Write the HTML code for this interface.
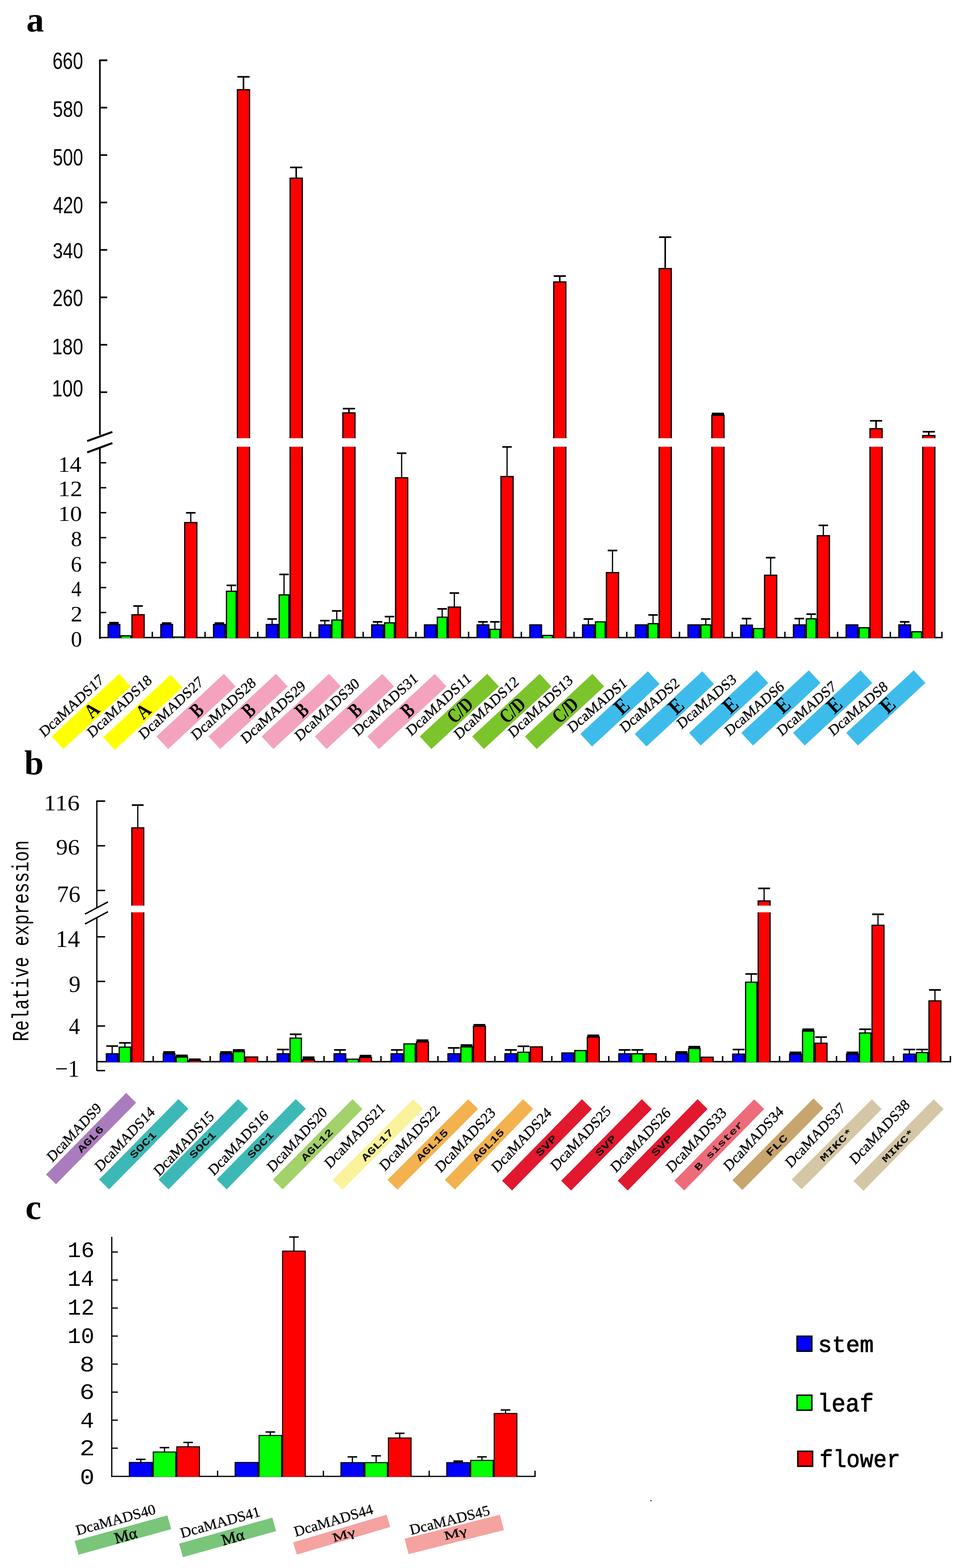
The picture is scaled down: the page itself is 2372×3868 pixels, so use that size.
<!DOCTYPE html>
<html><head><meta charset="utf-8"><title>Figure</title>
<style>html,body{margin:0;padding:0;background:#fff;} svg{display:block;}</style></head>
<body><svg width="2372" height="3868" viewBox="0 0 2372 3868">
<rect width="2372" height="3868" fill="#fff"/>
<text transform="translate(64.97,78.03) scale(0.9951,1)" font-family="'Liberation Serif',serif" font-weight="bold" font-size="87.50" fill="#000" >a</text>
<line x1="246.30" y1="147.00" x2="246.30" y2="1073.00" stroke="#000" stroke-width="4" stroke-linecap="butt"/>
<line x1="246.30" y1="967.50" x2="264.30" y2="967.50" stroke="#000" stroke-width="4" stroke-linecap="butt"/>
<line x1="246.30" y1="850.50" x2="264.30" y2="850.50" stroke="#000" stroke-width="4" stroke-linecap="butt"/>
<line x1="246.30" y1="733.50" x2="264.30" y2="733.50" stroke="#000" stroke-width="4" stroke-linecap="butt"/>
<line x1="246.30" y1="616.50" x2="264.30" y2="616.50" stroke="#000" stroke-width="4" stroke-linecap="butt"/>
<line x1="246.30" y1="499.50" x2="264.30" y2="499.50" stroke="#000" stroke-width="4" stroke-linecap="butt"/>
<line x1="246.30" y1="382.50" x2="264.30" y2="382.50" stroke="#000" stroke-width="4" stroke-linecap="butt"/>
<line x1="246.30" y1="265.50" x2="264.30" y2="265.50" stroke="#000" stroke-width="4" stroke-linecap="butt"/>
<line x1="246.30" y1="148.50" x2="264.30" y2="148.50" stroke="#000" stroke-width="4" stroke-linecap="butt"/>
<line x1="244.30" y1="149.00" x2="264.30" y2="149.00" stroke="#000" stroke-width="4" stroke-linecap="butt"/>
<line x1="215.00" y1="1088.00" x2="277.00" y2="1065.50" stroke="#000" stroke-width="5" stroke-linecap="butt"/>
<line x1="215.00" y1="1116.00" x2="277.00" y2="1093.00" stroke="#000" stroke-width="5" stroke-linecap="butt"/>
<line x1="246.30" y1="1104.00" x2="246.30" y2="1576.00" stroke="#000" stroke-width="4" stroke-linecap="butt"/>
<line x1="246.30" y1="1511.02" x2="262.00" y2="1511.02" stroke="#000" stroke-width="3.5" stroke-linecap="butt"/>
<line x1="246.30" y1="1449.44" x2="262.00" y2="1449.44" stroke="#000" stroke-width="3.5" stroke-linecap="butt"/>
<line x1="246.30" y1="1387.86" x2="262.00" y2="1387.86" stroke="#000" stroke-width="3.5" stroke-linecap="butt"/>
<line x1="246.30" y1="1326.28" x2="262.00" y2="1326.28" stroke="#000" stroke-width="3.5" stroke-linecap="butt"/>
<line x1="246.30" y1="1264.70" x2="262.00" y2="1264.70" stroke="#000" stroke-width="3.5" stroke-linecap="butt"/>
<line x1="246.30" y1="1203.12" x2="262.00" y2="1203.12" stroke="#000" stroke-width="3.5" stroke-linecap="butt"/>
<line x1="246.30" y1="1141.54" x2="262.00" y2="1141.54" stroke="#000" stroke-width="3.5" stroke-linecap="butt"/>
<line x1="244.30" y1="1572.80" x2="2324.00" y2="1572.80" stroke="#000" stroke-width="3.5" stroke-linecap="butt"/>
<line x1="375.58" y1="1558.50" x2="375.58" y2="1572.80" stroke="#000" stroke-width="3.5" stroke-linecap="butt"/>
<line x1="505.56" y1="1558.50" x2="505.56" y2="1572.80" stroke="#000" stroke-width="3.5" stroke-linecap="butt"/>
<line x1="635.54" y1="1558.50" x2="635.54" y2="1572.80" stroke="#000" stroke-width="3.5" stroke-linecap="butt"/>
<line x1="765.52" y1="1558.50" x2="765.52" y2="1572.80" stroke="#000" stroke-width="3.5" stroke-linecap="butt"/>
<line x1="895.50" y1="1558.50" x2="895.50" y2="1572.80" stroke="#000" stroke-width="3.5" stroke-linecap="butt"/>
<line x1="1025.48" y1="1558.50" x2="1025.48" y2="1572.80" stroke="#000" stroke-width="3.5" stroke-linecap="butt"/>
<line x1="1155.46" y1="1558.50" x2="1155.46" y2="1572.80" stroke="#000" stroke-width="3.5" stroke-linecap="butt"/>
<line x1="1285.44" y1="1558.50" x2="1285.44" y2="1572.80" stroke="#000" stroke-width="3.5" stroke-linecap="butt"/>
<line x1="1415.42" y1="1558.50" x2="1415.42" y2="1572.80" stroke="#000" stroke-width="3.5" stroke-linecap="butt"/>
<line x1="1545.40" y1="1558.50" x2="1545.40" y2="1572.80" stroke="#000" stroke-width="3.5" stroke-linecap="butt"/>
<line x1="1675.38" y1="1558.50" x2="1675.38" y2="1572.80" stroke="#000" stroke-width="3.5" stroke-linecap="butt"/>
<line x1="1805.36" y1="1558.50" x2="1805.36" y2="1572.80" stroke="#000" stroke-width="3.5" stroke-linecap="butt"/>
<line x1="1935.34" y1="1558.50" x2="1935.34" y2="1572.80" stroke="#000" stroke-width="3.5" stroke-linecap="butt"/>
<line x1="2065.32" y1="1558.50" x2="2065.32" y2="1572.80" stroke="#000" stroke-width="3.5" stroke-linecap="butt"/>
<line x1="2195.30" y1="1558.50" x2="2195.30" y2="1572.80" stroke="#000" stroke-width="3.5" stroke-linecap="butt"/>
<line x1="2322.50" y1="1558.50" x2="2322.50" y2="1572.80" stroke="#000" stroke-width="3.5" stroke-linecap="butt"/>
<text transform="translate(129.43,169.82) scale(0.7877,1)" font-family="'Liberation Sans',sans-serif" font-weight="normal" font-size="57.53" fill="#000" >660</text>
<text transform="translate(129.90,287.94) scale(0.8025,1)" font-family="'Liberation Sans',sans-serif" font-weight="normal" font-size="56.11" fill="#000" >580</text>
<text transform="translate(129.90,408.42) scale(0.7752,1)" font-family="'Liberation Sans',sans-serif" font-weight="normal" font-size="58.09" fill="#000" >500</text>
<text transform="translate(130.70,525.93) scale(0.7781,1)" font-family="'Liberation Sans',sans-serif" font-weight="normal" font-size="57.24" fill="#000" >420</text>
<text transform="translate(130.01,637.46) scale(0.8262,1)" font-family="'Liberation Sans',sans-serif" font-weight="normal" font-size="54.42" fill="#000" >340</text>
<text transform="translate(129.43,754.93) scale(0.8015,1)" font-family="'Liberation Sans',sans-serif" font-weight="normal" font-size="56.54" fill="#000" >260</text>
<text transform="translate(128.25,874.14) scale(0.8206,1)" font-family="'Liberation Sans',sans-serif" font-weight="normal" font-size="56.11" fill="#000" >180</text>
<text transform="translate(128.25,977.63) scale(0.8104,1)" font-family="'Liberation Sans',sans-serif" font-weight="normal" font-size="56.82" fill="#000" >100</text>
<text transform="translate(143.59,1164.00) scale(1.0500,1)" font-family="'Liberation Serif',serif" font-weight="normal" font-size="54.55" fill="#000" >14</text>
<text transform="translate(143.36,1224.00) scale(1.1031,1)" font-family="'Liberation Serif',serif" font-weight="normal" font-size="54.34" fill="#000" >12</text>
<text transform="translate(143.46,1285.47) scale(1.1014,1)" font-family="'Liberation Serif',serif" font-weight="normal" font-size="53.33" fill="#000" >10</text>
<text transform="translate(174.64,1346.98) scale(1.0483,1)" font-family="'Liberation Serif',serif" font-weight="normal" font-size="52.30" fill="#000" >8</text>
<text transform="translate(174.38,1409.66) scale(1.0042,1)" font-family="'Liberation Serif',serif" font-weight="normal" font-size="54.28" fill="#000" >6</text>
<text transform="translate(175.70,1471.00) scale(0.9177,1)" font-family="'Liberation Serif',serif" font-weight="normal" font-size="54.60" fill="#000" >4</text>
<text transform="translate(174.24,1533.10) scale(1.0683,1)" font-family="'Liberation Serif',serif" font-weight="normal" font-size="54.19" fill="#000" >2</text>
<text transform="translate(174.64,1594.66) scale(1.0139,1)" font-family="'Liberation Serif',serif" font-weight="normal" font-size="54.07" fill="#000" >0</text>
<rect x="265.10" y="1539.00" width="31.80" height="34.80" fill="#000"/>
<rect x="268.10" y="1542.00" width="25.80" height="31.80" fill="#0000FF"/>
<rect x="296.90" y="1567.00" width="27.00" height="6.80" fill="#000"/>
<rect x="299.90" y="1570.00" width="21.00" height="3.80" fill="#00FF00"/>
<rect x="323.90" y="1515.00" width="33.00" height="58.80" fill="#000"/>
<rect x="326.90" y="1518.00" width="27.00" height="55.80" fill="#FF0000"/>
<rect x="269.30" y="1534.00" width="23.40" height="6.00" fill="#000"/>
<line x1="340.40" y1="1495.00" x2="340.40" y2="1516.00" stroke="#000" stroke-width="3" stroke-linecap="butt"/>
<rect x="328.70" y="1493.00" width="23.40" height="4.00" fill="#000"/>
<rect x="395.08" y="1539.00" width="31.80" height="34.80" fill="#000"/>
<rect x="398.08" y="1542.00" width="25.80" height="31.80" fill="#0000FF"/>
<rect x="426.88" y="1570.00" width="27.00" height="3.80" fill="#000"/>
<rect x="429.88" y="1573.00" width="21.00" height="0.80" fill="#00FF00"/>
<rect x="453.88" y="1287.60" width="33.00" height="286.20" fill="#000"/>
<rect x="456.88" y="1290.60" width="27.00" height="283.20" fill="#FF0000"/>
<rect x="399.28" y="1535.00" width="23.40" height="5.00" fill="#000"/>
<line x1="470.38" y1="1265.00" x2="470.38" y2="1288.60" stroke="#000" stroke-width="3" stroke-linecap="butt"/>
<rect x="458.68" y="1263.00" width="23.40" height="4.00" fill="#000"/>
<rect x="525.06" y="1539.00" width="31.80" height="34.80" fill="#000"/>
<rect x="528.06" y="1542.00" width="25.80" height="31.80" fill="#0000FF"/>
<rect x="556.86" y="1457.00" width="27.00" height="116.80" fill="#000"/>
<rect x="559.86" y="1460.00" width="21.00" height="113.80" fill="#00FF00"/>
<rect x="583.86" y="219.70" width="33.00" height="1354.10" fill="#000"/>
<rect x="586.86" y="222.70" width="27.00" height="1351.10" fill="#FF0000"/>
<rect x="529.26" y="1535.00" width="23.40" height="5.00" fill="#000"/>
<line x1="570.36" y1="1444.00" x2="570.36" y2="1458.00" stroke="#000" stroke-width="3" stroke-linecap="butt"/>
<rect x="558.66" y="1442.00" width="23.40" height="4.00" fill="#000"/>
<line x1="600.36" y1="189.50" x2="600.36" y2="220.70" stroke="#000" stroke-width="3.8" stroke-linecap="butt"/>
<rect x="585.36" y="187.50" width="30.00" height="4.00" fill="#000"/>
<rect x="582.86" y="1081.00" width="35.00" height="21.00" fill="#fff"/>
<rect x="655.04" y="1539.00" width="31.80" height="34.80" fill="#000"/>
<rect x="658.04" y="1542.00" width="25.80" height="31.80" fill="#0000FF"/>
<rect x="686.84" y="1466.00" width="27.00" height="107.80" fill="#000"/>
<rect x="689.84" y="1469.00" width="21.00" height="104.80" fill="#00FF00"/>
<rect x="713.84" y="438.00" width="33.00" height="1135.80" fill="#000"/>
<rect x="716.84" y="441.00" width="27.00" height="1132.80" fill="#FF0000"/>
<line x1="670.94" y1="1527.00" x2="670.94" y2="1540.00" stroke="#000" stroke-width="3" stroke-linecap="butt"/>
<rect x="659.24" y="1525.00" width="23.40" height="4.00" fill="#000"/>
<line x1="700.34" y1="1417.00" x2="700.34" y2="1467.00" stroke="#000" stroke-width="3" stroke-linecap="butt"/>
<rect x="688.64" y="1415.00" width="23.40" height="4.00" fill="#000"/>
<line x1="730.34" y1="413.00" x2="730.34" y2="439.00" stroke="#000" stroke-width="3.8" stroke-linecap="butt"/>
<rect x="715.34" y="411.00" width="30.00" height="4.00" fill="#000"/>
<rect x="712.84" y="1081.00" width="35.00" height="21.00" fill="#fff"/>
<rect x="785.02" y="1540.00" width="31.80" height="33.80" fill="#000"/>
<rect x="788.02" y="1543.00" width="25.80" height="30.80" fill="#0000FF"/>
<rect x="816.82" y="1528.00" width="27.00" height="45.80" fill="#000"/>
<rect x="819.82" y="1531.00" width="21.00" height="42.80" fill="#00FF00"/>
<rect x="843.82" y="1017.00" width="33.00" height="556.80" fill="#000"/>
<rect x="846.82" y="1020.00" width="27.00" height="553.80" fill="#FF0000"/>
<line x1="800.92" y1="1531.00" x2="800.92" y2="1541.00" stroke="#000" stroke-width="3" stroke-linecap="butt"/>
<rect x="789.22" y="1529.00" width="23.40" height="4.00" fill="#000"/>
<line x1="830.32" y1="1507.00" x2="830.32" y2="1529.00" stroke="#000" stroke-width="3" stroke-linecap="butt"/>
<rect x="818.62" y="1505.00" width="23.40" height="4.00" fill="#000"/>
<line x1="860.32" y1="1008.00" x2="860.32" y2="1018.00" stroke="#000" stroke-width="3.8" stroke-linecap="butt"/>
<rect x="845.32" y="1006.00" width="30.00" height="4.00" fill="#000"/>
<rect x="842.82" y="1081.00" width="35.00" height="21.00" fill="#fff"/>
<rect x="915.00" y="1540.00" width="31.80" height="33.80" fill="#000"/>
<rect x="918.00" y="1543.00" width="25.80" height="30.80" fill="#0000FF"/>
<rect x="946.80" y="1535.00" width="27.00" height="38.80" fill="#000"/>
<rect x="949.80" y="1538.00" width="21.00" height="35.80" fill="#00FF00"/>
<rect x="973.80" y="1177.00" width="33.00" height="396.80" fill="#000"/>
<rect x="976.80" y="1180.00" width="27.00" height="393.80" fill="#FF0000"/>
<line x1="930.90" y1="1534.00" x2="930.90" y2="1541.00" stroke="#000" stroke-width="3" stroke-linecap="butt"/>
<rect x="919.20" y="1532.00" width="23.40" height="4.00" fill="#000"/>
<line x1="960.30" y1="1521.00" x2="960.30" y2="1536.00" stroke="#000" stroke-width="3" stroke-linecap="butt"/>
<rect x="948.60" y="1519.00" width="23.40" height="4.00" fill="#000"/>
<line x1="990.30" y1="1118.00" x2="990.30" y2="1178.00" stroke="#000" stroke-width="3" stroke-linecap="butt"/>
<rect x="978.60" y="1116.00" width="23.40" height="4.00" fill="#000"/>
<rect x="1044.98" y="1540.00" width="31.80" height="33.80" fill="#000"/>
<rect x="1047.98" y="1543.00" width="25.80" height="30.80" fill="#0000FF"/>
<rect x="1076.78" y="1521.00" width="27.00" height="52.80" fill="#000"/>
<rect x="1079.78" y="1524.00" width="21.00" height="49.80" fill="#00FF00"/>
<rect x="1103.78" y="1496.00" width="33.00" height="77.80" fill="#000"/>
<rect x="1106.78" y="1499.00" width="27.00" height="74.80" fill="#FF0000"/>
<line x1="1090.28" y1="1502.00" x2="1090.28" y2="1522.00" stroke="#000" stroke-width="3" stroke-linecap="butt"/>
<rect x="1078.58" y="1500.00" width="23.40" height="4.00" fill="#000"/>
<line x1="1120.28" y1="1463.00" x2="1120.28" y2="1497.00" stroke="#000" stroke-width="3" stroke-linecap="butt"/>
<rect x="1108.58" y="1461.00" width="23.40" height="4.00" fill="#000"/>
<rect x="1174.96" y="1540.00" width="31.80" height="33.80" fill="#000"/>
<rect x="1177.96" y="1543.00" width="25.80" height="30.80" fill="#0000FF"/>
<rect x="1206.76" y="1551.00" width="27.00" height="22.80" fill="#000"/>
<rect x="1209.76" y="1554.00" width="21.00" height="19.80" fill="#00FF00"/>
<rect x="1233.76" y="1174.00" width="33.00" height="399.80" fill="#000"/>
<rect x="1236.76" y="1177.00" width="27.00" height="396.80" fill="#FF0000"/>
<line x1="1190.86" y1="1534.00" x2="1190.86" y2="1541.00" stroke="#000" stroke-width="3" stroke-linecap="butt"/>
<rect x="1179.16" y="1532.00" width="23.40" height="4.00" fill="#000"/>
<line x1="1220.26" y1="1534.00" x2="1220.26" y2="1552.00" stroke="#000" stroke-width="3" stroke-linecap="butt"/>
<rect x="1208.56" y="1532.00" width="23.40" height="4.00" fill="#000"/>
<line x1="1250.26" y1="1102.50" x2="1250.26" y2="1175.00" stroke="#000" stroke-width="3" stroke-linecap="butt"/>
<rect x="1238.56" y="1100.50" width="23.40" height="4.00" fill="#000"/>
<rect x="1304.94" y="1540.00" width="31.80" height="33.80" fill="#000"/>
<rect x="1307.94" y="1543.00" width="25.80" height="30.80" fill="#0000FF"/>
<rect x="1336.74" y="1566.00" width="27.00" height="7.80" fill="#000"/>
<rect x="1339.74" y="1569.00" width="21.00" height="4.80" fill="#00FF00"/>
<rect x="1363.74" y="694.00" width="33.00" height="879.80" fill="#000"/>
<rect x="1366.74" y="697.00" width="27.00" height="876.80" fill="#FF0000"/>
<line x1="1380.24" y1="681.00" x2="1380.24" y2="695.00" stroke="#000" stroke-width="3.8" stroke-linecap="butt"/>
<rect x="1365.24" y="679.00" width="30.00" height="4.00" fill="#000"/>
<rect x="1362.74" y="1081.00" width="35.00" height="21.00" fill="#fff"/>
<rect x="1434.92" y="1540.00" width="31.80" height="33.80" fill="#000"/>
<rect x="1437.92" y="1543.00" width="25.80" height="30.80" fill="#0000FF"/>
<rect x="1466.72" y="1532.50" width="27.00" height="41.30" fill="#000"/>
<rect x="1469.72" y="1535.50" width="21.00" height="38.30" fill="#00FF00"/>
<rect x="1493.72" y="1411.00" width="33.00" height="162.80" fill="#000"/>
<rect x="1496.72" y="1414.00" width="27.00" height="159.80" fill="#FF0000"/>
<line x1="1450.82" y1="1527.00" x2="1450.82" y2="1541.00" stroke="#000" stroke-width="3" stroke-linecap="butt"/>
<rect x="1439.12" y="1525.00" width="23.40" height="4.00" fill="#000"/>
<line x1="1510.22" y1="1358.00" x2="1510.22" y2="1412.00" stroke="#000" stroke-width="3" stroke-linecap="butt"/>
<rect x="1498.52" y="1356.00" width="23.40" height="4.00" fill="#000"/>
<rect x="1564.90" y="1540.00" width="31.80" height="33.80" fill="#000"/>
<rect x="1567.90" y="1543.00" width="25.80" height="30.80" fill="#0000FF"/>
<rect x="1596.70" y="1537.00" width="27.00" height="36.80" fill="#000"/>
<rect x="1599.70" y="1540.00" width="21.00" height="33.80" fill="#00FF00"/>
<rect x="1623.70" y="661.00" width="33.00" height="912.80" fill="#000"/>
<rect x="1626.70" y="664.00" width="27.00" height="909.80" fill="#FF0000"/>
<line x1="1610.20" y1="1517.00" x2="1610.20" y2="1538.00" stroke="#000" stroke-width="3" stroke-linecap="butt"/>
<rect x="1598.50" y="1515.00" width="23.40" height="4.00" fill="#000"/>
<line x1="1640.20" y1="585.00" x2="1640.20" y2="662.00" stroke="#000" stroke-width="3.8" stroke-linecap="butt"/>
<rect x="1625.20" y="583.00" width="30.00" height="4.00" fill="#000"/>
<rect x="1622.70" y="1081.00" width="35.00" height="21.00" fill="#fff"/>
<rect x="1694.88" y="1540.00" width="31.80" height="33.80" fill="#000"/>
<rect x="1697.88" y="1543.00" width="25.80" height="30.80" fill="#0000FF"/>
<rect x="1726.68" y="1540.00" width="27.00" height="33.80" fill="#000"/>
<rect x="1729.68" y="1543.00" width="21.00" height="30.80" fill="#00FF00"/>
<rect x="1753.68" y="1023.00" width="33.00" height="550.80" fill="#000"/>
<rect x="1756.68" y="1026.00" width="27.00" height="547.80" fill="#FF0000"/>
<line x1="1740.18" y1="1527.00" x2="1740.18" y2="1541.00" stroke="#000" stroke-width="3" stroke-linecap="butt"/>
<rect x="1728.48" y="1525.00" width="23.40" height="4.00" fill="#000"/>
<rect x="1755.18" y="1018.00" width="30.00" height="6.00" fill="#000"/>
<rect x="1752.68" y="1081.00" width="35.00" height="21.00" fill="#fff"/>
<rect x="1824.86" y="1540.60" width="31.80" height="33.20" fill="#000"/>
<rect x="1827.86" y="1543.60" width="25.80" height="30.20" fill="#0000FF"/>
<rect x="1856.66" y="1549.00" width="27.00" height="24.80" fill="#000"/>
<rect x="1859.66" y="1552.00" width="21.00" height="21.80" fill="#00FF00"/>
<rect x="1883.66" y="1417.50" width="33.00" height="156.30" fill="#000"/>
<rect x="1886.66" y="1420.50" width="27.00" height="153.30" fill="#FF0000"/>
<line x1="1840.76" y1="1526.00" x2="1840.76" y2="1541.60" stroke="#000" stroke-width="3" stroke-linecap="butt"/>
<rect x="1829.06" y="1524.00" width="23.40" height="4.00" fill="#000"/>
<line x1="1900.16" y1="1375.60" x2="1900.16" y2="1418.50" stroke="#000" stroke-width="3" stroke-linecap="butt"/>
<rect x="1888.46" y="1373.60" width="23.40" height="4.00" fill="#000"/>
<rect x="1954.84" y="1540.00" width="31.80" height="33.80" fill="#000"/>
<rect x="1957.84" y="1543.00" width="25.80" height="30.80" fill="#0000FF"/>
<rect x="1986.64" y="1525.00" width="27.00" height="48.80" fill="#000"/>
<rect x="1989.64" y="1528.00" width="21.00" height="45.80" fill="#00FF00"/>
<rect x="2013.64" y="1320.00" width="33.00" height="253.80" fill="#000"/>
<rect x="2016.64" y="1323.00" width="27.00" height="250.80" fill="#FF0000"/>
<line x1="1970.74" y1="1526.00" x2="1970.74" y2="1541.00" stroke="#000" stroke-width="3" stroke-linecap="butt"/>
<rect x="1959.04" y="1524.00" width="23.40" height="4.00" fill="#000"/>
<line x1="2000.14" y1="1515.00" x2="2000.14" y2="1526.00" stroke="#000" stroke-width="3" stroke-linecap="butt"/>
<rect x="1988.44" y="1513.00" width="23.40" height="4.00" fill="#000"/>
<line x1="2030.14" y1="1296.00" x2="2030.14" y2="1321.00" stroke="#000" stroke-width="3" stroke-linecap="butt"/>
<rect x="2018.44" y="1294.00" width="23.40" height="4.00" fill="#000"/>
<rect x="2084.82" y="1540.00" width="31.80" height="33.80" fill="#000"/>
<rect x="2087.82" y="1543.00" width="25.80" height="30.80" fill="#0000FF"/>
<rect x="2116.62" y="1547.00" width="27.00" height="26.80" fill="#000"/>
<rect x="2119.62" y="1550.00" width="21.00" height="23.80" fill="#00FF00"/>
<rect x="2143.62" y="1056.00" width="33.00" height="517.80" fill="#000"/>
<rect x="2146.62" y="1059.00" width="27.00" height="514.80" fill="#FF0000"/>
<line x1="2160.12" y1="1038.00" x2="2160.12" y2="1057.00" stroke="#000" stroke-width="3.8" stroke-linecap="butt"/>
<rect x="2145.12" y="1036.00" width="30.00" height="4.00" fill="#000"/>
<rect x="2142.62" y="1081.00" width="35.00" height="21.00" fill="#fff"/>
<rect x="2214.80" y="1540.00" width="31.80" height="33.80" fill="#000"/>
<rect x="2217.80" y="1543.00" width="25.80" height="30.80" fill="#0000FF"/>
<rect x="2246.60" y="1557.00" width="27.00" height="16.80" fill="#000"/>
<rect x="2249.60" y="1560.00" width="21.00" height="13.80" fill="#00FF00"/>
<rect x="2273.60" y="1073.00" width="33.00" height="500.80" fill="#000"/>
<rect x="2276.60" y="1076.00" width="27.00" height="497.80" fill="#FF0000"/>
<line x1="2230.70" y1="1534.00" x2="2230.70" y2="1541.00" stroke="#000" stroke-width="3" stroke-linecap="butt"/>
<rect x="2219.00" y="1532.00" width="23.40" height="4.00" fill="#000"/>
<line x1="2290.10" y1="1065.00" x2="2290.10" y2="1074.00" stroke="#000" stroke-width="3.8" stroke-linecap="butt"/>
<rect x="2275.10" y="1063.00" width="30.00" height="4.00" fill="#000"/>
<rect x="2272.60" y="1081.00" width="35.00" height="21.00" fill="#fff"/>
<text transform="translate(59.93,1909.65) scale(1.0146,1)" font-family="'Liberation Serif',serif" font-weight="bold" font-size="84.54" fill="#000" >b</text>
<line x1="238.80" y1="1975.00" x2="238.80" y2="2239.00" stroke="#000" stroke-width="3.2" stroke-linecap="butt"/>
<line x1="238.80" y1="1976.20" x2="259.20" y2="1976.20" stroke="#000" stroke-width="3.5" stroke-linecap="butt"/>
<line x1="238.80" y1="2086.40" x2="259.20" y2="2086.40" stroke="#000" stroke-width="3.5" stroke-linecap="butt"/>
<line x1="238.80" y1="2196.60" x2="259.20" y2="2196.60" stroke="#000" stroke-width="3.5" stroke-linecap="butt"/>
<line x1="237.30" y1="1976.40" x2="259.20" y2="1976.40" stroke="#000" stroke-width="3.5" stroke-linecap="butt"/>
<line x1="209.40" y1="2255.00" x2="266.20" y2="2224.90" stroke="#000" stroke-width="3.6" stroke-linecap="butt"/>
<line x1="209.40" y1="2279.30" x2="266.20" y2="2249.10" stroke="#000" stroke-width="3.6" stroke-linecap="butt"/>
<line x1="238.80" y1="2264.00" x2="238.80" y2="2641.50" stroke="#000" stroke-width="3.2" stroke-linecap="butt"/>
<line x1="238.80" y1="2311.00" x2="259.20" y2="2311.00" stroke="#000" stroke-width="3.5" stroke-linecap="butt"/>
<line x1="238.80" y1="2421.00" x2="259.20" y2="2421.00" stroke="#000" stroke-width="3.5" stroke-linecap="butt"/>
<line x1="238.80" y1="2531.00" x2="259.20" y2="2531.00" stroke="#000" stroke-width="3.5" stroke-linecap="butt"/>
<line x1="238.80" y1="2641.00" x2="259.20" y2="2641.00" stroke="#000" stroke-width="3.5" stroke-linecap="butt"/>
<line x1="237.30" y1="2619.00" x2="2345.00" y2="2619.00" stroke="#000" stroke-width="3.5" stroke-linecap="butt"/>
<line x1="377.80" y1="2605.00" x2="377.80" y2="2619.00" stroke="#000" stroke-width="3.5" stroke-linecap="butt"/>
<line x1="518.20" y1="2605.00" x2="518.20" y2="2619.00" stroke="#000" stroke-width="3.5" stroke-linecap="butt"/>
<line x1="658.60" y1="2605.00" x2="658.60" y2="2619.00" stroke="#000" stroke-width="3.5" stroke-linecap="butt"/>
<line x1="799.00" y1="2605.00" x2="799.00" y2="2619.00" stroke="#000" stroke-width="3.5" stroke-linecap="butt"/>
<line x1="939.40" y1="2605.00" x2="939.40" y2="2619.00" stroke="#000" stroke-width="3.5" stroke-linecap="butt"/>
<line x1="1079.80" y1="2605.00" x2="1079.80" y2="2619.00" stroke="#000" stroke-width="3.5" stroke-linecap="butt"/>
<line x1="1220.20" y1="2605.00" x2="1220.20" y2="2619.00" stroke="#000" stroke-width="3.5" stroke-linecap="butt"/>
<line x1="1360.60" y1="2605.00" x2="1360.60" y2="2619.00" stroke="#000" stroke-width="3.5" stroke-linecap="butt"/>
<line x1="1501.00" y1="2605.00" x2="1501.00" y2="2619.00" stroke="#000" stroke-width="3.5" stroke-linecap="butt"/>
<line x1="1641.40" y1="2605.00" x2="1641.40" y2="2619.00" stroke="#000" stroke-width="3.5" stroke-linecap="butt"/>
<line x1="1781.80" y1="2605.00" x2="1781.80" y2="2619.00" stroke="#000" stroke-width="3.5" stroke-linecap="butt"/>
<line x1="1922.20" y1="2605.00" x2="1922.20" y2="2619.00" stroke="#000" stroke-width="3.5" stroke-linecap="butt"/>
<line x1="2062.60" y1="2605.00" x2="2062.60" y2="2619.00" stroke="#000" stroke-width="3.5" stroke-linecap="butt"/>
<line x1="2203.00" y1="2605.00" x2="2203.00" y2="2619.00" stroke="#000" stroke-width="3.5" stroke-linecap="butt"/>
<line x1="2343.40" y1="2605.00" x2="2343.40" y2="2619.00" stroke="#000" stroke-width="3.5" stroke-linecap="butt"/>
<text transform="translate(108.00,1999.05) scale(1.1060,1)" font-family="'Liberation Serif',serif" font-weight="normal" font-size="54.72" fill="#000" >116</text>
<text transform="translate(138.10,2108.15) scale(1.0692,1)" font-family="'Liberation Serif',serif" font-weight="normal" font-size="54.57" fill="#000" >96</text>
<text transform="translate(140.21,2225.43) scale(1.0306,1)" font-family="'Liberation Serif',serif" font-weight="normal" font-size="56.51" fill="#000" >76</text>
<text transform="translate(137.15,2335.50) scale(1.0269,1)" font-family="'Liberation Serif',serif" font-weight="normal" font-size="58.48" fill="#000" >14</text>
<text transform="translate(169.72,2446.63) scale(1.0092,1)" font-family="'Liberation Serif',serif" font-weight="normal" font-size="57.25" fill="#000" >9</text>
<text transform="translate(169.81,2550.50) scale(0.9527,1)" font-family="'Liberation Serif',serif" font-weight="normal" font-size="57.34" fill="#000" >4</text>
<text transform="translate(135.67,2656.10) scale(0.9693,1)" font-family="'Liberation Serif',serif" font-weight="normal" font-size="58.33" fill="#000" >−1</text>
<text transform="translate(69.90,2565.40) rotate(-90.00) translate(-3.48,0) scale(0.7692,1)" font-family="'Liberation Mono',monospace" font-weight="normal" font-size="56.55" fill="#000">Relative expression</text>
<rect x="260.70" y="2598.00" width="31.80" height="22.00" fill="#000"/>
<rect x="263.70" y="2601.00" width="25.80" height="19.00" fill="#0000FF"/>
<rect x="292.50" y="2581.60" width="31.00" height="38.40" fill="#000"/>
<rect x="295.50" y="2584.60" width="25.00" height="35.40" fill="#00FF00"/>
<rect x="323.50" y="2040.60" width="32.40" height="579.40" fill="#000"/>
<rect x="326.50" y="2043.60" width="26.40" height="576.40" fill="#FF0000"/>
<line x1="276.60" y1="2580.50" x2="276.60" y2="2599.00" stroke="#000" stroke-width="3" stroke-linecap="butt"/>
<rect x="262.10" y="2578.50" width="29.00" height="4.00" fill="#000"/>
<line x1="308.00" y1="2572.60" x2="308.00" y2="2582.60" stroke="#000" stroke-width="3" stroke-linecap="butt"/>
<rect x="293.50" y="2570.60" width="29.00" height="4.00" fill="#000"/>
<line x1="339.70" y1="1986.00" x2="339.70" y2="2041.60" stroke="#000" stroke-width="3" stroke-linecap="butt"/>
<rect x="325.20" y="1984.00" width="29.00" height="4.00" fill="#000"/>
<rect x="322.50" y="2234.00" width="34.40" height="16.50" fill="#fff"/>
<rect x="401.10" y="2598.00" width="31.80" height="22.00" fill="#000"/>
<rect x="404.10" y="2601.00" width="25.80" height="19.00" fill="#0000FF"/>
<rect x="432.90" y="2606.00" width="31.00" height="14.00" fill="#000"/>
<rect x="435.90" y="2609.00" width="25.00" height="11.00" fill="#00FF00"/>
<rect x="463.90" y="2615.00" width="32.40" height="5.00" fill="#000"/>
<rect x="466.90" y="2618.00" width="26.40" height="2.00" fill="#FF0000"/>
<rect x="402.50" y="2593.00" width="29.00" height="6.00" fill="#000"/>
<rect x="433.90" y="2601.50" width="29.00" height="5.50" fill="#000"/>
<rect x="465.60" y="2611.00" width="29.00" height="5.00" fill="#000"/>
<rect x="541.50" y="2598.00" width="31.80" height="22.00" fill="#000"/>
<rect x="544.50" y="2601.00" width="25.80" height="19.00" fill="#0000FF"/>
<rect x="573.30" y="2592.70" width="31.00" height="27.30" fill="#000"/>
<rect x="576.30" y="2595.70" width="25.00" height="24.30" fill="#00FF00"/>
<rect x="604.30" y="2606.00" width="32.40" height="14.00" fill="#000"/>
<rect x="607.30" y="2609.00" width="26.40" height="11.00" fill="#FF0000"/>
<rect x="542.90" y="2593.00" width="29.00" height="6.00" fill="#000"/>
<rect x="574.30" y="2588.00" width="29.00" height="5.70" fill="#000"/>
<rect x="681.90" y="2598.00" width="31.80" height="22.00" fill="#000"/>
<rect x="684.90" y="2601.00" width="25.80" height="19.00" fill="#0000FF"/>
<rect x="713.70" y="2559.40" width="31.00" height="60.60" fill="#000"/>
<rect x="716.70" y="2562.40" width="25.00" height="57.60" fill="#00FF00"/>
<rect x="744.70" y="2613.00" width="32.40" height="7.00" fill="#000"/>
<rect x="747.70" y="2616.00" width="26.40" height="4.00" fill="#FF0000"/>
<line x1="697.80" y1="2589.00" x2="697.80" y2="2599.00" stroke="#000" stroke-width="3" stroke-linecap="butt"/>
<rect x="683.30" y="2587.00" width="29.00" height="4.00" fill="#000"/>
<line x1="729.20" y1="2551.40" x2="729.20" y2="2560.40" stroke="#000" stroke-width="3" stroke-linecap="butt"/>
<rect x="714.70" y="2549.40" width="29.00" height="4.00" fill="#000"/>
<rect x="746.40" y="2606.00" width="29.00" height="8.00" fill="#000"/>
<rect x="822.30" y="2598.00" width="31.80" height="22.00" fill="#000"/>
<rect x="825.30" y="2601.00" width="25.80" height="19.00" fill="#0000FF"/>
<rect x="854.10" y="2611.40" width="31.00" height="8.60" fill="#000"/>
<rect x="857.10" y="2614.40" width="25.00" height="5.60" fill="#00FF00"/>
<rect x="885.10" y="2607.00" width="32.40" height="13.00" fill="#000"/>
<rect x="888.10" y="2610.00" width="26.40" height="10.00" fill="#FF0000"/>
<line x1="838.20" y1="2590.00" x2="838.20" y2="2599.00" stroke="#000" stroke-width="3" stroke-linecap="butt"/>
<rect x="823.70" y="2588.00" width="29.00" height="4.00" fill="#000"/>
<rect x="886.80" y="2602.00" width="29.00" height="6.00" fill="#000"/>
<rect x="962.70" y="2598.00" width="31.80" height="22.00" fill="#000"/>
<rect x="965.70" y="2601.00" width="25.80" height="19.00" fill="#0000FF"/>
<rect x="994.50" y="2573.60" width="31.00" height="46.40" fill="#000"/>
<rect x="997.50" y="2576.60" width="25.00" height="43.40" fill="#00FF00"/>
<rect x="1025.50" y="2568.70" width="32.40" height="51.30" fill="#000"/>
<rect x="1028.50" y="2571.70" width="26.40" height="48.30" fill="#FF0000"/>
<line x1="978.60" y1="2590.00" x2="978.60" y2="2599.00" stroke="#000" stroke-width="3" stroke-linecap="butt"/>
<rect x="964.10" y="2588.00" width="29.00" height="4.00" fill="#000"/>
<rect x="1027.20" y="2564.00" width="29.00" height="5.70" fill="#000"/>
<rect x="1103.10" y="2598.00" width="31.80" height="22.00" fill="#000"/>
<rect x="1106.10" y="2601.00" width="25.80" height="19.00" fill="#0000FF"/>
<rect x="1134.90" y="2581.00" width="31.00" height="39.00" fill="#000"/>
<rect x="1137.90" y="2584.00" width="25.00" height="36.00" fill="#00FF00"/>
<rect x="1165.90" y="2530.40" width="32.40" height="89.60" fill="#000"/>
<rect x="1168.90" y="2533.40" width="26.40" height="86.60" fill="#FF0000"/>
<line x1="1119.00" y1="2585.00" x2="1119.00" y2="2599.00" stroke="#000" stroke-width="3" stroke-linecap="butt"/>
<rect x="1104.50" y="2583.00" width="29.00" height="4.00" fill="#000"/>
<rect x="1135.90" y="2576.00" width="29.00" height="6.00" fill="#000"/>
<rect x="1167.60" y="2526.00" width="29.00" height="5.40" fill="#000"/>
<rect x="1243.50" y="2598.00" width="31.80" height="22.00" fill="#000"/>
<rect x="1246.50" y="2601.00" width="25.80" height="19.00" fill="#0000FF"/>
<rect x="1275.30" y="2594.30" width="31.00" height="25.70" fill="#000"/>
<rect x="1278.30" y="2597.30" width="25.00" height="22.70" fill="#00FF00"/>
<rect x="1306.30" y="2581.00" width="32.40" height="39.00" fill="#000"/>
<rect x="1309.30" y="2584.00" width="26.40" height="36.00" fill="#FF0000"/>
<line x1="1259.40" y1="2590.00" x2="1259.40" y2="2599.00" stroke="#000" stroke-width="3" stroke-linecap="butt"/>
<rect x="1244.90" y="2588.00" width="29.00" height="4.00" fill="#000"/>
<line x1="1290.80" y1="2581.00" x2="1290.80" y2="2595.30" stroke="#000" stroke-width="3" stroke-linecap="butt"/>
<rect x="1276.30" y="2579.00" width="29.00" height="4.00" fill="#000"/>
<rect x="1383.90" y="2596.00" width="31.80" height="24.00" fill="#000"/>
<rect x="1386.90" y="2599.00" width="25.80" height="21.00" fill="#0000FF"/>
<rect x="1415.70" y="2590.00" width="31.00" height="30.00" fill="#000"/>
<rect x="1418.70" y="2593.00" width="25.00" height="27.00" fill="#00FF00"/>
<rect x="1446.70" y="2556.60" width="32.40" height="63.40" fill="#000"/>
<rect x="1449.70" y="2559.60" width="26.40" height="60.40" fill="#FF0000"/>
<rect x="1448.40" y="2552.00" width="29.00" height="5.60" fill="#000"/>
<rect x="1524.30" y="2598.00" width="31.80" height="22.00" fill="#000"/>
<rect x="1527.30" y="2601.00" width="25.80" height="19.00" fill="#0000FF"/>
<rect x="1556.10" y="2598.00" width="31.00" height="22.00" fill="#000"/>
<rect x="1559.10" y="2601.00" width="25.00" height="19.00" fill="#00FF00"/>
<rect x="1587.10" y="2598.00" width="32.40" height="22.00" fill="#000"/>
<rect x="1590.10" y="2601.00" width="26.40" height="19.00" fill="#FF0000"/>
<line x1="1540.20" y1="2590.00" x2="1540.20" y2="2599.00" stroke="#000" stroke-width="3" stroke-linecap="butt"/>
<rect x="1525.70" y="2588.00" width="29.00" height="4.00" fill="#000"/>
<line x1="1571.60" y1="2590.00" x2="1571.60" y2="2599.00" stroke="#000" stroke-width="3" stroke-linecap="butt"/>
<rect x="1557.10" y="2588.00" width="29.00" height="4.00" fill="#000"/>
<rect x="1664.70" y="2597.80" width="31.80" height="22.20" fill="#000"/>
<rect x="1667.70" y="2600.80" width="25.80" height="19.20" fill="#0000FF"/>
<rect x="1696.50" y="2585.00" width="31.00" height="35.00" fill="#000"/>
<rect x="1699.50" y="2588.00" width="25.00" height="32.00" fill="#00FF00"/>
<rect x="1727.50" y="2606.50" width="32.40" height="13.50" fill="#000"/>
<rect x="1730.50" y="2609.50" width="26.40" height="10.50" fill="#FF0000"/>
<rect x="1666.10" y="2593.00" width="29.00" height="5.80" fill="#000"/>
<rect x="1697.50" y="2580.00" width="29.00" height="6.00" fill="#000"/>
<rect x="1805.10" y="2598.80" width="31.80" height="21.20" fill="#000"/>
<rect x="1808.10" y="2601.80" width="25.80" height="18.20" fill="#0000FF"/>
<rect x="1836.90" y="2421.50" width="31.00" height="198.50" fill="#000"/>
<rect x="1839.90" y="2424.50" width="25.00" height="195.50" fill="#00FF00"/>
<rect x="1867.90" y="2221.00" width="32.40" height="399.00" fill="#000"/>
<rect x="1870.90" y="2224.00" width="26.40" height="396.00" fill="#FF0000"/>
<line x1="1821.00" y1="2589.00" x2="1821.00" y2="2599.80" stroke="#000" stroke-width="3" stroke-linecap="butt"/>
<rect x="1806.50" y="2587.00" width="29.00" height="4.00" fill="#000"/>
<line x1="1852.40" y1="2402.60" x2="1852.40" y2="2422.50" stroke="#000" stroke-width="3" stroke-linecap="butt"/>
<rect x="1837.90" y="2400.60" width="29.00" height="4.00" fill="#000"/>
<line x1="1884.10" y1="2191.50" x2="1884.10" y2="2222.00" stroke="#000" stroke-width="3" stroke-linecap="butt"/>
<rect x="1869.60" y="2189.50" width="29.00" height="4.00" fill="#000"/>
<rect x="1866.90" y="2234.00" width="34.40" height="16.50" fill="#fff"/>
<rect x="1945.50" y="2598.80" width="31.80" height="21.20" fill="#000"/>
<rect x="1948.50" y="2601.80" width="25.80" height="18.20" fill="#0000FF"/>
<rect x="1977.30" y="2542.00" width="31.00" height="78.00" fill="#000"/>
<rect x="1980.30" y="2545.00" width="25.00" height="75.00" fill="#00FF00"/>
<rect x="2008.30" y="2572.00" width="32.40" height="48.00" fill="#000"/>
<rect x="2011.30" y="2575.00" width="26.40" height="45.00" fill="#FF0000"/>
<rect x="1946.90" y="2594.00" width="29.00" height="5.80" fill="#000"/>
<rect x="1978.30" y="2537.00" width="29.00" height="6.00" fill="#000"/>
<line x1="2024.50" y1="2558.40" x2="2024.50" y2="2573.00" stroke="#000" stroke-width="3" stroke-linecap="butt"/>
<rect x="2010.00" y="2556.40" width="29.00" height="4.00" fill="#000"/>
<rect x="2085.90" y="2598.80" width="31.80" height="21.20" fill="#000"/>
<rect x="2088.90" y="2601.80" width="25.80" height="18.20" fill="#0000FF"/>
<rect x="2117.70" y="2546.70" width="31.00" height="73.30" fill="#000"/>
<rect x="2120.70" y="2549.70" width="25.00" height="70.30" fill="#00FF00"/>
<rect x="2148.70" y="2281.00" width="32.40" height="339.00" fill="#000"/>
<rect x="2151.70" y="2284.00" width="26.40" height="336.00" fill="#FF0000"/>
<rect x="2087.30" y="2594.00" width="29.00" height="5.80" fill="#000"/>
<line x1="2133.20" y1="2539.00" x2="2133.20" y2="2547.70" stroke="#000" stroke-width="3" stroke-linecap="butt"/>
<rect x="2118.70" y="2537.00" width="29.00" height="4.00" fill="#000"/>
<line x1="2164.90" y1="2255.40" x2="2164.90" y2="2282.00" stroke="#000" stroke-width="3" stroke-linecap="butt"/>
<rect x="2150.40" y="2253.40" width="29.00" height="4.00" fill="#000"/>
<rect x="2226.30" y="2598.80" width="31.80" height="21.20" fill="#000"/>
<rect x="2229.30" y="2601.80" width="25.80" height="18.20" fill="#0000FF"/>
<rect x="2258.10" y="2595.00" width="31.00" height="25.00" fill="#000"/>
<rect x="2261.10" y="2598.00" width="25.00" height="22.00" fill="#00FF00"/>
<rect x="2289.10" y="2467.50" width="32.40" height="152.50" fill="#000"/>
<rect x="2292.10" y="2470.50" width="26.40" height="149.50" fill="#FF0000"/>
<line x1="2242.20" y1="2589.00" x2="2242.20" y2="2599.80" stroke="#000" stroke-width="3" stroke-linecap="butt"/>
<rect x="2227.70" y="2587.00" width="29.00" height="4.00" fill="#000"/>
<line x1="2273.60" y1="2589.00" x2="2273.60" y2="2596.00" stroke="#000" stroke-width="3" stroke-linecap="butt"/>
<rect x="2259.10" y="2587.00" width="29.00" height="4.00" fill="#000"/>
<line x1="2305.30" y1="2442.00" x2="2305.30" y2="2468.50" stroke="#000" stroke-width="3" stroke-linecap="butt"/>
<rect x="2290.80" y="2440.00" width="29.00" height="4.00" fill="#000"/>
<text transform="translate(62.40,3006.72) scale(1.0122,1)" font-family="'Liberation Serif',serif" font-weight="bold" font-size="87.50" fill="#000" >c</text>
<line x1="275.60" y1="3051.00" x2="275.60" y2="3643.50" stroke="#000" stroke-width="3" stroke-linecap="butt"/>
<line x1="275.60" y1="3572.38" x2="290.70" y2="3572.38" stroke="#000" stroke-width="3" stroke-linecap="butt"/>
<line x1="275.60" y1="3503.26" x2="290.70" y2="3503.26" stroke="#000" stroke-width="3" stroke-linecap="butt"/>
<line x1="275.60" y1="3434.14" x2="290.70" y2="3434.14" stroke="#000" stroke-width="3" stroke-linecap="butt"/>
<line x1="275.60" y1="3365.02" x2="290.70" y2="3365.02" stroke="#000" stroke-width="3" stroke-linecap="butt"/>
<line x1="275.60" y1="3295.90" x2="290.70" y2="3295.90" stroke="#000" stroke-width="3" stroke-linecap="butt"/>
<line x1="275.60" y1="3226.78" x2="290.70" y2="3226.78" stroke="#000" stroke-width="3" stroke-linecap="butt"/>
<line x1="275.60" y1="3157.66" x2="290.70" y2="3157.66" stroke="#000" stroke-width="3" stroke-linecap="butt"/>
<line x1="275.60" y1="3088.54" x2="290.70" y2="3088.54" stroke="#000" stroke-width="3" stroke-linecap="butt"/>
<line x1="274.10" y1="3642.00" x2="1321.00" y2="3642.00" stroke="#000" stroke-width="3.2" stroke-linecap="butt"/>
<line x1="536.50" y1="3628.00" x2="536.50" y2="3642.00" stroke="#000" stroke-width="3.2" stroke-linecap="butt"/>
<line x1="797.40" y1="3628.00" x2="797.40" y2="3642.00" stroke="#000" stroke-width="3.2" stroke-linecap="butt"/>
<line x1="1058.30" y1="3628.00" x2="1058.30" y2="3642.00" stroke="#000" stroke-width="3.2" stroke-linecap="butt"/>
<line x1="1319.20" y1="3628.00" x2="1319.20" y2="3642.00" stroke="#000" stroke-width="3.2" stroke-linecap="butt"/>
<text transform="translate(166.49,3101.26) scale(1.0264,1)" font-family="'Liberation Mono',monospace" font-weight="normal" font-size="53.82" fill="#000" >16</text>
<text transform="translate(166.55,3171.50) scale(0.9787,1)" font-family="'Liberation Mono',monospace" font-weight="normal" font-size="55.67" fill="#000" >14</text>
<text transform="translate(166.48,3243.20) scale(1.0161,1)" font-family="'Liberation Mono',monospace" font-weight="normal" font-size="54.63" fill="#000" >12</text>
<text transform="translate(166.51,3313.46) scale(1.0216,1)" font-family="'Liberation Mono',monospace" font-weight="normal" font-size="53.82" fill="#000" >10</text>
<text transform="translate(196.53,3383.26) scale(1.1345,1)" font-family="'Liberation Mono',monospace" font-weight="normal" font-size="53.82" fill="#000" >8</text>
<text transform="translate(196.00,3451.06) scale(1.1529,1)" font-family="'Liberation Mono',monospace" font-weight="normal" font-size="53.82" fill="#000" >6</text>
<text transform="translate(197.63,3521.50) scale(1.0312,1)" font-family="'Liberation Mono',monospace" font-weight="normal" font-size="55.67" fill="#000" >4</text>
<text transform="translate(196.13,3590.30) scale(1.1421,1)" font-family="'Liberation Mono',monospace" font-weight="normal" font-size="54.63" fill="#000" >2</text>
<text transform="translate(196.91,3660.76) scale(1.1109,1)" font-family="'Liberation Mono',monospace" font-weight="normal" font-size="53.82" fill="#000" >0</text>
<rect x="317.60" y="3606.40" width="59.00" height="36.60" fill="#000"/>
<rect x="320.10" y="3608.90" width="54.00" height="34.10" fill="#0000FF"/>
<rect x="376.60" y="3580.60" width="58.00" height="62.40" fill="#000"/>
<rect x="379.10" y="3583.10" width="53.00" height="59.90" fill="#00FF00"/>
<rect x="434.60" y="3567.70" width="58.50" height="75.30" fill="#000"/>
<rect x="437.10" y="3570.20" width="53.50" height="72.80" fill="#FF0000"/>
<line x1="347.10" y1="3600.00" x2="347.10" y2="3607.40" stroke="#000" stroke-width="3" stroke-linecap="butt"/>
<rect x="335.30" y="3598.25" width="23.60" height="3.50" fill="#000"/>
<line x1="405.60" y1="3571.00" x2="405.60" y2="3581.60" stroke="#000" stroke-width="3" stroke-linecap="butt"/>
<rect x="393.80" y="3569.25" width="23.60" height="3.50" fill="#000"/>
<line x1="463.85" y1="3558.30" x2="463.85" y2="3568.70" stroke="#000" stroke-width="3" stroke-linecap="butt"/>
<rect x="452.05" y="3556.55" width="23.60" height="3.50" fill="#000"/>
<rect x="578.50" y="3606.40" width="59.00" height="36.60" fill="#000"/>
<rect x="581.00" y="3608.90" width="54.00" height="34.10" fill="#0000FF"/>
<rect x="637.50" y="3539.80" width="58.00" height="103.20" fill="#000"/>
<rect x="640.00" y="3542.30" width="53.00" height="100.70" fill="#00FF00"/>
<rect x="695.50" y="3085.00" width="58.50" height="558.00" fill="#000"/>
<rect x="698.00" y="3087.50" width="53.50" height="555.50" fill="#FF0000"/>
<line x1="666.50" y1="3532.50" x2="666.50" y2="3540.80" stroke="#000" stroke-width="3" stroke-linecap="butt"/>
<rect x="654.70" y="3530.75" width="23.60" height="3.50" fill="#000"/>
<line x1="724.75" y1="3051.50" x2="724.75" y2="3086.00" stroke="#000" stroke-width="3" stroke-linecap="butt"/>
<rect x="712.95" y="3049.75" width="23.60" height="3.50" fill="#000"/>
<rect x="839.40" y="3606.80" width="59.00" height="36.20" fill="#000"/>
<rect x="841.90" y="3609.30" width="54.00" height="33.70" fill="#0000FF"/>
<rect x="898.40" y="3606.80" width="58.00" height="36.20" fill="#000"/>
<rect x="900.90" y="3609.30" width="53.00" height="33.70" fill="#00FF00"/>
<rect x="956.40" y="3546.00" width="58.50" height="97.00" fill="#000"/>
<rect x="958.90" y="3548.50" width="53.50" height="94.50" fill="#FF0000"/>
<line x1="868.90" y1="3593.90" x2="868.90" y2="3607.80" stroke="#000" stroke-width="3" stroke-linecap="butt"/>
<rect x="857.10" y="3592.15" width="23.60" height="3.50" fill="#000"/>
<line x1="927.40" y1="3591.30" x2="927.40" y2="3607.80" stroke="#000" stroke-width="3" stroke-linecap="butt"/>
<rect x="915.60" y="3589.55" width="23.60" height="3.50" fill="#000"/>
<line x1="985.65" y1="3535.70" x2="985.65" y2="3547.00" stroke="#000" stroke-width="3" stroke-linecap="butt"/>
<rect x="973.85" y="3533.95" width="23.60" height="3.50" fill="#000"/>
<rect x="1100.30" y="3606.80" width="59.00" height="36.20" fill="#000"/>
<rect x="1102.80" y="3609.30" width="54.00" height="33.70" fill="#0000FF"/>
<rect x="1159.30" y="3601.30" width="58.00" height="41.70" fill="#000"/>
<rect x="1161.80" y="3603.80" width="53.00" height="39.20" fill="#00FF00"/>
<rect x="1217.30" y="3485.60" width="58.50" height="157.40" fill="#000"/>
<rect x="1219.80" y="3488.10" width="53.50" height="154.90" fill="#FF0000"/>
<rect x="1118.00" y="3602.45" width="23.60" height="5.35" fill="#000"/>
<line x1="1188.30" y1="3593.90" x2="1188.30" y2="3602.30" stroke="#000" stroke-width="3" stroke-linecap="butt"/>
<rect x="1176.50" y="3592.15" width="23.60" height="3.50" fill="#000"/>
<line x1="1246.55" y1="3478.20" x2="1246.55" y2="3486.60" stroke="#000" stroke-width="3" stroke-linecap="butt"/>
<rect x="1234.75" y="3476.45" width="23.60" height="3.50" fill="#000"/>
<rect x="1963.50" y="3294.50" width="40.00" height="40.50" fill="#000"/>
<rect x="1967.00" y="3298.00" width="33.00" height="33.50" fill="#0000FF"/>
<rect x="1963.50" y="3440.00" width="40.00" height="40.50" fill="#000"/>
<rect x="1967.00" y="3443.50" width="33.00" height="33.50" fill="#00FF00"/>
<rect x="1965.40" y="3578.30" width="40.00" height="40.50" fill="#000"/>
<rect x="1968.90" y="3581.80" width="33.00" height="33.50" fill="#FF0000"/>
<text transform="translate(2017.08,3335.43) scale(1.0055,1)" font-family="'Liberation Mono',monospace" font-weight="normal" font-size="56.89" fill="#000" stroke="#000" stroke-width="1.2">stem</text>
<text transform="translate(2015.46,3481.78) scale(0.9305,1)" font-family="'Liberation Mono',monospace" font-weight="normal" font-size="62.31" fill="#000" stroke="#000" stroke-width="1.2">leaf</text>
<text transform="translate(2020.66,3618.69) scale(0.9043,1)" font-family="'Liberation Mono',monospace" font-weight="normal" font-size="61.22" fill="#000" stroke="#000" stroke-width="1.2">flower</text>
<rect x="1604.00" y="3700.00" width="2.50" height="3.50" fill="#222"/>
<rect transform="translate(127.20,1816.70) rotate(-42.850)" x="0" y="0" width="227.00" height="42.40" fill="#FFFF00"/>
<rect transform="translate(254.40,1818.80) rotate(-42.850)" x="0" y="0" width="227.00" height="42.40" fill="#FFFF00"/>
<rect transform="translate(385.70,1816.70) rotate(-42.850)" x="0" y="0" width="227.00" height="42.40" fill="#F4A3BF"/>
<rect transform="translate(514.10,1816.70) rotate(-42.850)" x="0" y="0" width="227.00" height="42.40" fill="#F4A3BF"/>
<rect transform="translate(645.10,1816.70) rotate(-42.850)" x="0" y="0" width="227.00" height="42.40" fill="#F4A3BF"/>
<rect transform="translate(776.40,1816.70) rotate(-42.850)" x="0" y="0" width="227.00" height="42.40" fill="#F4A3BF"/>
<rect transform="translate(905.70,1816.70) rotate(-42.850)" x="0" y="0" width="227.00" height="42.40" fill="#F4A3BF"/>
<rect transform="translate(1035.00,1816.70) rotate(-42.850)" x="0" y="0" width="227.00" height="42.40" fill="#7CC42B"/>
<rect transform="translate(1164.30,1816.70) rotate(-42.850)" x="0" y="0" width="227.00" height="42.40" fill="#7CC42B"/>
<rect transform="translate(1294.40,1816.70) rotate(-42.850)" x="0" y="0" width="227.00" height="42.40" fill="#7CC42B"/>
<rect transform="translate(1431.00,1810.50) rotate(-42.850)" x="0" y="0" width="227.00" height="42.40" fill="#3DBCEC"/>
<rect transform="translate(1565.20,1810.50) rotate(-42.850)" x="0" y="0" width="227.00" height="42.40" fill="#3DBCEC"/>
<rect transform="translate(1699.00,1808.00) rotate(-42.850)" x="0" y="0" width="227.00" height="42.40" fill="#3DBCEC"/>
<rect transform="translate(1827.90,1808.00) rotate(-42.850)" x="0" y="0" width="227.00" height="42.40" fill="#3DBCEC"/>
<rect transform="translate(1955.40,1808.00) rotate(-42.850)" x="0" y="0" width="227.00" height="42.40" fill="#3DBCEC"/>
<rect transform="translate(2086.50,1808.00) rotate(-42.850)" x="0" y="0" width="227.00" height="42.40" fill="#3DBCEC"/>
<text transform="translate(109.40,1819.60) rotate(-43.00) skewX(-6.00) translate(-1.02,0) scale(1.0266,1)" font-family="'Liberation Serif',serif" font-weight="normal" font-size="36.23" fill="#000" stroke="#000" stroke-width="0.49">DcaMADS17</text>
<text transform="translate(226.35,1752.28) rotate(-42.85) skewX(0.00) translate(-14.91,16.50) scale(0.8227,1)" font-family="'Liberation Serif',serif" font-weight="bold" font-size="50.00" fill="#000">A</text>
<text transform="translate(227.60,1820.80) rotate(-43.00) skewX(-6.00) translate(-1.02,0) scale(1.0324,1)" font-family="'Liberation Serif',serif" font-weight="normal" font-size="36.09" fill="#000" stroke="#000" stroke-width="0.48">DcaMADS18</text>
<text transform="translate(353.55,1754.38) rotate(-42.85) skewX(0.00) translate(-14.91,16.50) scale(0.8227,1)" font-family="'Liberation Serif',serif" font-weight="bold" font-size="50.00" fill="#000">A</text>
<text transform="translate(354.80,1824.90) rotate(-43.00) skewX(-6.00) translate(-1.02,0) scale(1.0266,1)" font-family="'Liberation Serif',serif" font-weight="normal" font-size="36.23" fill="#000" stroke="#000" stroke-width="0.49">DcaMADS27</text>
<text transform="translate(484.85,1752.28) rotate(-42.85) skewX(0.00) translate(-12.67,16.37) scale(0.7682,1)" font-family="'Liberation Serif',serif" font-weight="bold" font-size="50.19" fill="#000">B</text>
<text transform="translate(484.10,1827.00) rotate(-43.00) skewX(-6.00) translate(-1.02,0) scale(1.0324,1)" font-family="'Liberation Serif',serif" font-weight="normal" font-size="36.09" fill="#000" stroke="#000" stroke-width="0.48">DcaMADS28</text>
<text transform="translate(613.25,1752.28) rotate(-42.85) skewX(0.00) translate(-12.67,16.37) scale(0.7682,1)" font-family="'Liberation Serif',serif" font-weight="bold" font-size="50.19" fill="#000">B</text>
<text transform="translate(606.60,1835.20) rotate(-43.00) skewX(-6.00) translate(-1.03,0) scale(1.0290,1)" font-family="'Liberation Serif',serif" font-weight="normal" font-size="36.23" fill="#000" stroke="#000" stroke-width="0.49">DcaMADS29</text>
<text transform="translate(744.25,1752.28) rotate(-42.85) skewX(0.00) translate(-12.67,16.37) scale(0.7682,1)" font-family="'Liberation Serif',serif" font-weight="bold" font-size="50.19" fill="#000">B</text>
<text transform="translate(739.40,1829.00) rotate(-43.00) skewX(-6.00) translate(-1.02,0) scale(1.0324,1)" font-family="'Liberation Serif',serif" font-weight="normal" font-size="36.09" fill="#000" stroke="#000" stroke-width="0.48">DcaMADS30</text>
<text transform="translate(875.55,1752.28) rotate(-42.85) skewX(0.00) translate(-12.67,16.37) scale(0.7682,1)" font-family="'Liberation Serif',serif" font-weight="bold" font-size="50.19" fill="#000">B</text>
<text transform="translate(883.00,1816.70) rotate(-43.00) skewX(-6.00) translate(-1.03,0) scale(1.0328,1)" font-family="'Liberation Serif',serif" font-weight="normal" font-size="36.23" fill="#000" stroke="#000" stroke-width="0.48">DcaMADS31</text>
<text transform="translate(1004.85,1752.28) rotate(-42.85) skewX(0.00) translate(-12.67,16.37) scale(0.7682,1)" font-family="'Liberation Serif',serif" font-weight="bold" font-size="50.19" fill="#000">B</text>
<text transform="translate(1014.30,1816.70) rotate(-43.00) skewX(-6.00) translate(-1.04,0) scale(1.0400,1)" font-family="'Liberation Serif',serif" font-weight="normal" font-size="36.23" fill="#000" stroke="#000" stroke-width="0.48">DcaMADS11</text>
<text transform="translate(1134.15,1752.28) rotate(-42.85) skewX(0.00) translate(-33.87,16.01) scale(0.8026,1)" font-family="'Liberation Serif',serif" font-weight="bold" font-size="49.07" fill="#000">C/D</text>
<text transform="translate(1132.00,1825.00) rotate(-43.00) skewX(-6.00) translate(-1.03,0) scale(1.0318,1)" font-family="'Liberation Serif',serif" font-weight="normal" font-size="36.23" fill="#000" stroke="#000" stroke-width="0.48">DcaMADS12</text>
<text transform="translate(1263.45,1752.28) rotate(-42.85) skewX(0.00) translate(-33.87,16.01) scale(0.8026,1)" font-family="'Liberation Serif',serif" font-weight="bold" font-size="49.07" fill="#000">C/D</text>
<text transform="translate(1265.60,1820.80) rotate(-43.00) skewX(-6.00) translate(-1.03,0) scale(1.0290,1)" font-family="'Liberation Serif',serif" font-weight="normal" font-size="36.23" fill="#000" stroke="#000" stroke-width="0.49">DcaMADS13</text>
<text transform="translate(1393.55,1752.28) rotate(-42.85) skewX(0.00) translate(-33.87,16.01) scale(0.8026,1)" font-family="'Liberation Serif',serif" font-weight="bold" font-size="49.07" fill="#000">C/D</text>
<text transform="translate(1411.20,1808.50) rotate(-41.00) skewX(-6.00) translate(-1.00,0) scale(1.0086,1)" font-family="'Liberation Serif',serif" font-weight="normal" font-size="36.23" fill="#000" stroke="#000" stroke-width="0.50">DcaMADS1</text>
<text transform="translate(1532.40,1742.63) rotate(-42.85) skewX(0.00) translate(-14.82,17.50) scale(0.8770,1)" font-family="'Liberation Serif',serif" font-weight="bold" font-size="53.44" fill="#000">E</text>
<text transform="translate(1540.50,1808.50) rotate(-41.00) skewX(-6.00) translate(-1.00,0) scale(1.0076,1)" font-family="'Liberation Serif',serif" font-weight="normal" font-size="36.23" fill="#000" stroke="#000" stroke-width="0.50">DcaMADS2</text>
<text transform="translate(1666.60,1742.63) rotate(-42.85) skewX(0.00) translate(-14.82,17.50) scale(0.8770,1)" font-family="'Liberation Serif',serif" font-weight="bold" font-size="53.44" fill="#000">E</text>
<text transform="translate(1681.10,1799.10) rotate(-41.00) skewX(-6.00) translate(-1.00,0) scale(1.0046,1)" font-family="'Liberation Serif',serif" font-weight="normal" font-size="36.23" fill="#000" stroke="#000" stroke-width="0.50">DcaMADS3</text>
<text transform="translate(1800.40,1740.13) rotate(-42.85) skewX(0.00) translate(-14.82,17.50) scale(0.8770,1)" font-family="'Liberation Serif',serif" font-weight="bold" font-size="53.44" fill="#000">E</text>
<text transform="translate(1799.10,1816.60) rotate(-41.00) skewX(-6.00) translate(-1.00,0) scale(1.0025,1)" font-family="'Liberation Serif',serif" font-weight="normal" font-size="36.23" fill="#000" stroke="#000" stroke-width="0.50">DcaMADS6</text>
<text transform="translate(1929.30,1740.13) rotate(-42.85) skewX(0.00) translate(-14.82,17.50) scale(0.8770,1)" font-family="'Liberation Serif',serif" font-weight="bold" font-size="53.44" fill="#000">E</text>
<text transform="translate(1928.00,1816.60) rotate(-41.00) skewX(-6.00) translate(-1.00,0) scale(1.0020,1)" font-family="'Liberation Serif',serif" font-weight="normal" font-size="36.23" fill="#000" stroke="#000" stroke-width="0.50">DcaMADS7</text>
<text transform="translate(2056.80,1740.13) rotate(-42.85) skewX(0.00) translate(-14.82,17.50) scale(0.8770,1)" font-family="'Liberation Serif',serif" font-weight="bold" font-size="53.44" fill="#000">E</text>
<text transform="translate(2054.70,1816.60) rotate(-41.00) skewX(-6.00) translate(-1.00,0) scale(1.0078,1)" font-family="'Liberation Serif',serif" font-weight="normal" font-size="36.09" fill="#000" stroke="#000" stroke-width="0.50">DcaMADS8</text>
<text transform="translate(2187.90,1740.13) rotate(-42.85) skewX(0.00) translate(-14.82,17.50) scale(0.8770,1)" font-family="'Liberation Serif',serif" font-weight="bold" font-size="53.44" fill="#000">E</text>
<rect transform="translate(113.63,2897.26) rotate(-45.546)" x="0" y="0" width="281.87" height="34.40" fill="#A97DBD"/>
<rect transform="translate(244.43,2909.86) rotate(-45.450)" x="0" y="0" width="278.82" height="34.40" fill="#3CB9B6"/>
<rect transform="translate(391.03,2909.85) rotate(-45.363)" x="0" y="0" width="279.24" height="34.40" fill="#3CB9B6"/>
<rect transform="translate(534.33,2909.86) rotate(-45.538)" x="0" y="0" width="278.40" height="34.40" fill="#3CB9B6"/>
<rect transform="translate(672.74,2909.85) rotate(-45.261)" x="0" y="0" width="279.17" height="34.40" fill="#A3D16A"/>
<rect transform="translate(820.04,2910.54) rotate(-45.000)" x="0" y="0" width="281.43" height="34.40" fill="#FBF39B"/>
<rect transform="translate(955.44,2910.54) rotate(-45.000)" x="0" y="0" width="281.43" height="34.40" fill="#F3B24E"/>
<rect transform="translate(1096.92,2910.57) rotate(-45.892)" x="0" y="0" width="277.15" height="34.40" fill="#F3B24E"/>
<rect transform="translate(1237.93,2912.66) rotate(-45.590)" x="0" y="0" width="281.51" height="34.40" fill="#E2182E"/>
<rect transform="translate(1383.64,2912.65) rotate(-45.301)" x="0" y="0" width="282.92" height="34.40" fill="#E2182E"/>
<rect transform="translate(1523.13,2912.66) rotate(-45.605)" x="0" y="0" width="281.44" height="34.40" fill="#E2182E"/>
<rect transform="translate(1662.63,2912.66) rotate(-45.576)" x="0" y="0" width="281.44" height="34.40" fill="#EE6C7A"/>
<rect transform="translate(1806.04,2911.35) rotate(-45.285)" x="0" y="0" width="283.84" height="34.40" fill="#C8A56C"/>
<rect transform="translate(1952.24,2909.24) rotate(-45.000)" x="0" y="0" width="279.45" height="34.40" fill="#D5C6A6"/>
<rect transform="translate(2104.53,2913.46) rotate(-45.602)" x="0" y="0" width="282.43" height="34.40" fill="#D5C6A6"/>
<text transform="translate(129.80,2867.80) rotate(-47.00) skewX(-6.00) translate(-0.99,0) scale(0.9962,1)" font-family="'Liberation Serif',serif" font-weight="normal" font-size="36.23" fill="#000" stroke="#000" stroke-width="0.50">DcaMADS9</text>
<text transform="translate(222.51,2810.85) rotate(-45.55) skewX(0.00) translate(-40.00,8.25) scale(1.3646,1)" font-family="'Liberation Mono',monospace" font-weight="bold" font-size="25.00" fill="#111">AGL6</text>
<text transform="translate(247.90,2891.30) rotate(-47.00) skewX(-6.00) translate(-1.00,0) scale(1.0040,1)" font-family="'Liberation Serif',serif" font-weight="normal" font-size="36.23" fill="#000" stroke="#000" stroke-width="0.50">DcaMADS14</text>
<text transform="translate(352.39,2824.71) rotate(-45.45) skewX(0.00) translate(-40.68,8.25) scale(1.3690,1)" font-family="'Liberation Mono',monospace" font-weight="bold" font-size="25.00" fill="#111">SOC1</text>
<text transform="translate(393.30,2902.60) rotate(-47.00) skewX(-6.00) translate(-1.00,0) scale(1.0086,1)" font-family="'Liberation Serif',serif" font-weight="normal" font-size="36.23" fill="#000" stroke="#000" stroke-width="0.50">DcaMADS15</text>
<text transform="translate(499.27,2824.72) rotate(-45.36) skewX(0.00) translate(-40.68,8.25) scale(1.3690,1)" font-family="'Liberation Mono',monospace" font-weight="bold" font-size="25.00" fill="#111">SOC1</text>
<text transform="translate(527.80,2901.30) rotate(-47.00) skewX(-6.00) translate(-1.00,0) scale(1.0068,1)" font-family="'Liberation Serif',serif" font-weight="normal" font-size="36.23" fill="#000" stroke="#000" stroke-width="0.50">DcaMADS16</text>
<text transform="translate(642.00,2824.70) rotate(-45.54) skewX(0.00) translate(-40.68,8.25) scale(1.3690,1)" font-family="'Liberation Mono',monospace" font-weight="bold" font-size="25.00" fill="#111">SOC1</text>
<text transform="translate(672.50,2892.50) rotate(-47.00) skewX(-6.00) translate(-1.00,0) scale(1.0120,1)" font-family="'Liberation Serif',serif" font-weight="normal" font-size="36.09" fill="#000" stroke="#000" stroke-width="0.49">DcaMADS20</text>
<text transform="translate(781.09,2824.94) rotate(-45.26) skewX(0.00) translate(-49.50,8.25) scale(1.3458,1)" font-family="'Liberation Mono',monospace" font-weight="bold" font-size="25.00" fill="#111">AGL12</text>
<text transform="translate(814.20,2883.40) rotate(-47.00) skewX(-6.00) translate(-1.01,0) scale(1.0124,1)" font-family="'Liberation Serif',serif" font-weight="normal" font-size="36.23" fill="#000" stroke="#000" stroke-width="0.49">DcaMADS21</text>
<text transform="translate(929.59,2825.33) rotate(-45.00) skewX(0.00) translate(-49.50,8.25) scale(1.3504,1)" font-family="'Liberation Mono',monospace" font-weight="bold" font-size="25.00" fill="#111">AGL17</text>
<text transform="translate(949.60,2889.50) rotate(-47.00) skewX(-6.00) translate(-1.01,0) scale(1.0114,1)" font-family="'Liberation Serif',serif" font-weight="normal" font-size="36.23" fill="#000" stroke="#000" stroke-width="0.49">DcaMADS22</text>
<text transform="translate(1064.99,2825.33) rotate(-45.00) skewX(0.00) translate(-49.50,8.25) scale(1.3435,1)" font-family="'Liberation Mono',monospace" font-weight="bold" font-size="25.00" fill="#111">AGL15</text>
<text transform="translate(1087.10,2893.60) rotate(-47.00) skewX(-6.00) translate(-1.00,0) scale(1.0086,1)" font-family="'Liberation Serif',serif" font-weight="normal" font-size="36.23" fill="#000" stroke="#000" stroke-width="0.50">DcaMADS23</text>
<text transform="translate(1203.63,2825.19) rotate(-45.89) skewX(0.00) translate(-49.50,8.25) scale(1.3435,1)" font-family="'Liberation Mono',monospace" font-weight="bold" font-size="25.00" fill="#111">AGL15</text>
<text transform="translate(1226.00,2893.60) rotate(-47.00) skewX(-6.00) translate(-1.00,0) scale(1.0040,1)" font-family="'Liberation Serif',serif" font-weight="normal" font-size="36.23" fill="#000" stroke="#000" stroke-width="0.50">DcaMADS24</text>
<text transform="translate(1346.62,2826.29) rotate(-45.59) skewX(0.00) translate(-31.20,8.25) scale(1.4043,1)" font-family="'Liberation Mono',monospace" font-weight="bold" font-size="25.00" fill="#111">SVP</text>
<text transform="translate(1371.70,2889.50) rotate(-47.00) skewX(-6.00) translate(-1.00,0) scale(1.0086,1)" font-family="'Liberation Serif',serif" font-weight="normal" font-size="36.23" fill="#000" stroke="#000" stroke-width="0.50">DcaMADS25</text>
<text transform="translate(1493.25,2826.33) rotate(-45.30) skewX(0.00) translate(-31.20,8.25) scale(1.4043,1)" font-family="'Liberation Mono',monospace" font-weight="bold" font-size="25.00" fill="#111">SVP</text>
<text transform="translate(1519.40,2893.60) rotate(-47.00) skewX(-6.00) translate(-1.00,0) scale(1.0068,1)" font-family="'Liberation Serif',serif" font-weight="normal" font-size="36.23" fill="#000" stroke="#000" stroke-width="0.50">DcaMADS26</text>
<text transform="translate(1631.77,2826.29) rotate(-45.60) skewX(0.00) translate(-31.20,8.25) scale(1.4043,1)" font-family="'Liberation Mono',monospace" font-weight="bold" font-size="25.00" fill="#111">SVP</text>
<text transform="translate(1656.80,2893.60) rotate(-47.00) skewX(-6.00) translate(-1.00,0) scale(1.0086,1)" font-family="'Liberation Serif',serif" font-weight="normal" font-size="36.23" fill="#000" stroke="#000" stroke-width="0.50">DcaMADS33</text>
<text transform="translate(1771.31,2826.34) rotate(-45.58) skewX(0.00) translate(-80.26,8.27) scale(1.4474,1)" font-family="'Liberation Mono',monospace" font-weight="bold" font-size="23.13" fill="#111">B sister</text>
<text transform="translate(1798.20,2890.30) rotate(-47.00) skewX(-6.00) translate(-1.00,0) scale(1.0040,1)" font-family="'Liberation Serif',serif" font-weight="normal" font-size="36.23" fill="#000" stroke="#000" stroke-width="0.50">DcaMADS34</text>
<text transform="translate(1916.00,2824.74) rotate(-45.29) skewX(0.00) translate(-33.48,8.25) scale(1.4438,1)" font-family="'Liberation Mono',monospace" font-weight="bold" font-size="25.00" fill="#111">FLC</text>
<text transform="translate(1950.50,2882.00) rotate(-47.00) skewX(-6.00) translate(-1.00,0) scale(1.0063,1)" font-family="'Liberation Serif',serif" font-weight="normal" font-size="36.23" fill="#000" stroke="#000" stroke-width="0.50">DcaMADS37</text>
<text transform="translate(2061.09,2824.73) rotate(-45.00) skewX(0.00) translate(-51.15,8.27) scale(1.5045,1)" font-family="'Liberation Mono',monospace" font-weight="bold" font-size="23.13" fill="#111">MIKC*</text>
<text transform="translate(2109.00,2873.80) rotate(-47.00) skewX(-6.00) translate(-1.00,0) scale(1.0120,1)" font-family="'Liberation Serif',serif" font-weight="normal" font-size="36.09" fill="#000" stroke="#000" stroke-width="0.49">DcaMADS38</text>
<text transform="translate(2213.52,2826.74) rotate(-45.60) skewX(0.00) translate(-51.15,8.27) scale(1.5045,1)" font-family="'Liberation Mono',monospace" font-weight="bold" font-size="23.13" fill="#111">MIKC*</text>
<rect transform="translate(184.10,3801.20) rotate(-15.401)" x="0" y="0" width="237.22" height="35.35" fill="#79C57A"/>
<rect transform="translate(441.70,3807.90) rotate(-15.609)" x="0" y="0" width="238.60" height="34.57" fill="#79C57A"/>
<rect transform="translate(722.80,3804.70) rotate(-16.498)" x="0" y="0" width="240.50" height="31.61" fill="#F4A3A0"/>
<rect transform="translate(997.70,3795.80) rotate(-14.185)" x="0" y="0" width="242.39" height="39.22" fill="#F4A3A0"/>
<text transform="translate(191.65,3787.19) rotate(-15.40) skewX(0.00) translate(-1.01,0) scale(1.0196,1)" font-family="'Liberation Serif',serif" font-weight="normal" font-size="36.09" fill="#000" stroke="#000" stroke-width="0.39">DcaMADS40</text>
<text transform="translate(310.19,3788.25) rotate(-15.40) skewX(0.00) translate(-28.61,12.61) scale(1.0306,1)" font-family="'Liberation Serif',serif" font-weight="normal" font-size="39.10" fill="#000" stroke="#000" stroke-width="0.78">Mα</text>
<text transform="translate(449.20,3793.86) rotate(-15.61) skewX(0.00) translate(-1.02,0) scale(1.0200,1)" font-family="'Liberation Serif',serif" font-weight="normal" font-size="36.23" fill="#000" stroke="#000" stroke-width="0.39">DcaMADS41</text>
<text transform="translate(574.48,3792.61) rotate(-15.61) skewX(0.00) translate(-28.61,12.61) scale(1.0306,1)" font-family="'Liberation Serif',serif" font-weight="normal" font-size="39.10" fill="#000" stroke="#000" stroke-width="0.78">Mα</text>
<text transform="translate(730.08,3790.55) rotate(-16.50) skewX(0.00) translate(-1.01,0) scale(1.0116,1)" font-family="'Liberation Serif',serif" font-weight="normal" font-size="36.23" fill="#000" stroke="#000" stroke-width="0.40">DcaMADS44</text>
<text transform="translate(848.62,3789.34) rotate(-16.50) skewX(0.00) translate(-28.68,6.63) scale(1.4309,1)" font-family="'Liberation Serif',serif" font-weight="normal" font-size="29.97" fill="#000" stroke="#000" stroke-width="0.56">Mγ</text>
<text transform="translate(1014.51,3785.98) rotate(-14.19) skewX(0.00) translate(-1.01,0) scale(1.0163,1)" font-family="'Liberation Serif',serif" font-weight="normal" font-size="36.23" fill="#000" stroke="#000" stroke-width="0.39">DcaMADS45</text>
<text transform="translate(1124.03,3785.53) rotate(-14.19) skewX(0.00) translate(-28.68,6.63) scale(1.4309,1)" font-family="'Liberation Serif',serif" font-weight="normal" font-size="29.97" fill="#000" stroke="#000" stroke-width="0.56">Mγ</text>
</svg></body></html>
